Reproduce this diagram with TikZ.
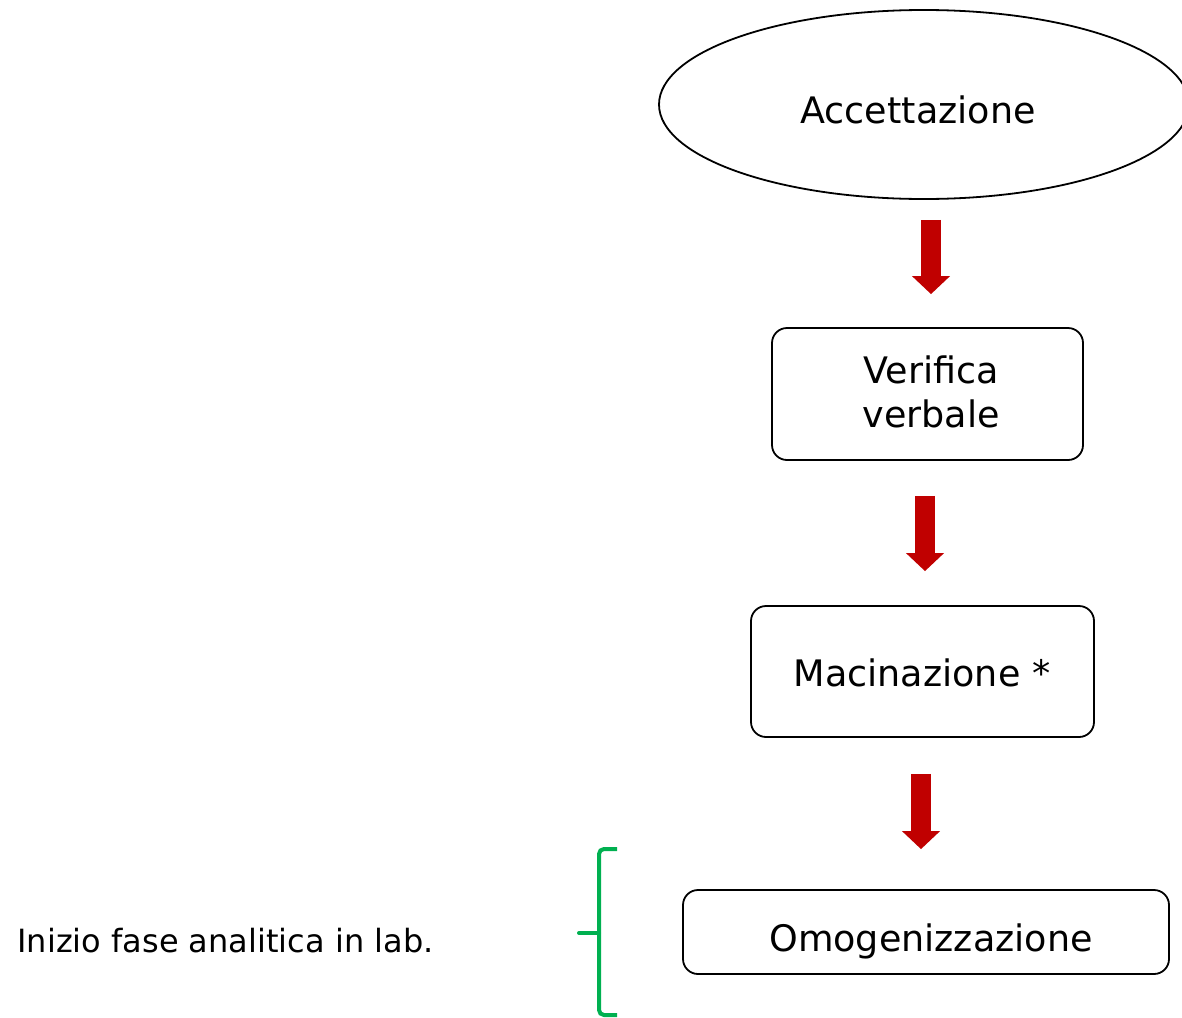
\documentclass[tikz,border=0pt]{standalone}
\usepackage{fontspec}
\setmainfont{DejaVu Sans}
\usetikzlibrary{shapes.geometric,arrows.meta}
\definecolor{arrred}{RGB}{192,0,0}
\definecolor{bracegreen}{RGB}{0,176,80}
\tikzset{
  bigtext/.style={font=\fontsize{36.5}{44}\selectfont},
  stepbox/.style={draw=black, line width=1.8pt, rounded corners=15pt, inner sep=0pt},
  bigarrow/.style={draw=arrred, line width=20pt, -{Triangle[width=37pt,length=18pt]}},
}
\begin{document}
\begin{tikzpicture}[x=1pt,y=-1pt]
\useasboundingbox (0,0) rectangle (1182,1017);
% ellipse
\node[draw=black, line width=1.8pt, ellipse, minimum width=530pt, minimum height=189pt, inner sep=0pt] (acc) at (924,104.5) {};
\node[bigtext] (acct) at (918,110) {Accettazione};
% boxes
\node[stepbox, minimum width=311pt, minimum height=132pt] (ver) at (927.5,394) {};
\node[bigtext, align=center] (vert) at (931,392) {Verifica\\verbale};
\node[stepbox, minimum width=343pt, minimum height=131pt] (mac) at (922.5,671.5) {};
\node[bigtext] (mact) at (922,673) {Macinazione *};
\node[stepbox, minimum width=486pt, minimum height=84pt] (omo) at (926,932) {};
\node[bigtext] (omot) at (931,941) {Omogenizzazione};
% arrows
\draw[bigarrow] ([xshift=7pt,yshift=-20pt]acc.south) -- ([xshift=3.5pt,yshift=33pt]ver.north);
\draw[bigarrow] ([xshift=-2.5pt,yshift=-35pt]ver.south) -- ([xshift=2.5pt,yshift=34pt]mac.north);
\draw[bigarrow] ([xshift=-1.5pt,yshift=-36pt]mac.south) -- ([xshift=-5pt,yshift=40pt]omo.north);
% left label
\node[font=\fontsize{32}{38}\selectfont, anchor=west] (lab) at (14,941) {Inizio fase analitica in lab.};
% brace
\coordinate (btop) at (617,849);
\coordinate (bbot) at (617,1015);
\coordinate (bmid) at (579,933);
\draw[bracegreen, line width=4pt, rounded corners=5pt] (btop) -- (599,849) -- (599,1015) -- (bbot);
\draw[bracegreen, line width=4pt, line cap=round] (bmid) -- (599,933);
\end{tikzpicture}
\end{document}
